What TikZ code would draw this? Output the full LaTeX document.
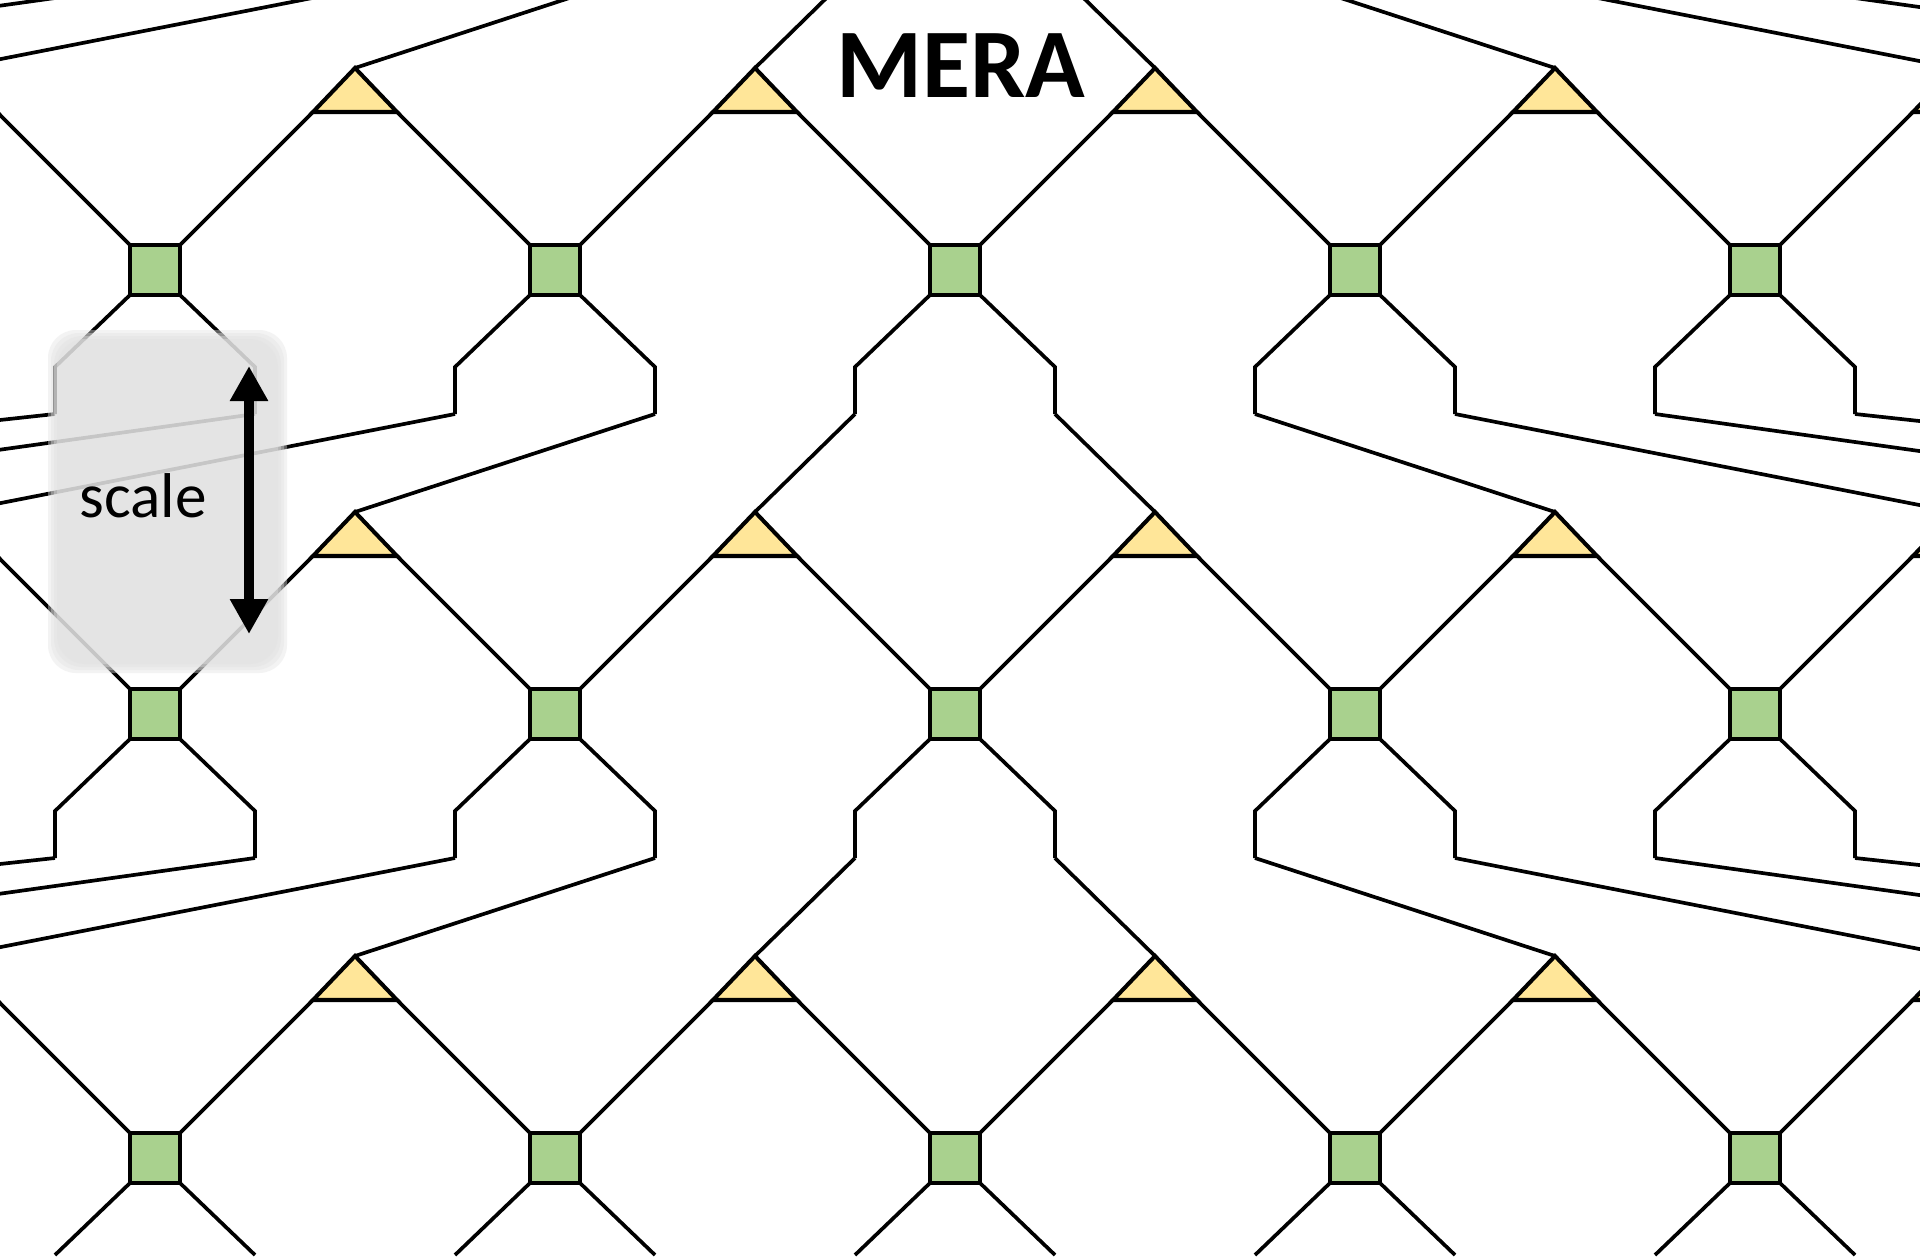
\documentclass[tikz,border=0pt]{standalone}
\usepackage{fontspec}
\setmainfont{Carlito}
\usetikzlibrary{shapes.geometric,arrows.meta}
\definecolor{disgreen}{HTML}{A9D18E}
\definecolor{isoyellow}{HTML}{FFE699}
\definecolor{boxgray}{RGB}{226,226,226}

\begin{document}
\begin{tikzpicture}[
    x=0.1mm, y=-0.1mm,
    disent/.style={rectangle, draw, line width=1.3pt, fill=disgreen, minimum size=5mm, inner sep=0pt, outer sep=0pt},
    iso/.style={isosceles triangle, isosceles triangle stretches, shape border rotate=90, draw, line width=1.15pt, fill=isoyellow, inner sep=0pt, outer sep=0pt, minimum width=8.4mm, minimum height=4.4mm, anchor=apex},
    wire/.style={line width=1.05pt},
    scalebox/.style={fill=boxgray, fill opacity=0.41, rounded corners=2.8mm},
    scalearrow/.style={line width=1mm, <->, >={Triangle[width=3.6mm,length=3.5mm]}}
]

\fill [white] (0,0) rectangle (1920,1260);
\useasboundingbox (0,0) rectangle (1920,1260);
\clip (0,0) rectangle (1920,1260);

\foreach \r in {0,...,3}
  \foreach \m in {0,...,4} {
    \pgfmathtruncatemacro\jl{2*\m}
    \pgfmathtruncatemacro\jr{2*\m+1}
    \node (s-\r-\m) [disent] at ({155+400*\m},{270+444*(\r-1)}) {};
    \coordinate (l-\r-\jl) at ({55+400*\m},{414+444*(\r-1)});
    \coordinate (l-\r-\jr) at ({255+400*\m},{414+444*(\r-1)});
    \ifnum\r<3
      \draw [wire] (s-\r-\m.south west) -- ++(-75,72) -- (l-\r-\jl);
      \draw [wire] (s-\r-\m.south east) -- ++(75,72) -- (l-\r-\jr);
    \else
      \draw [wire] (s-\r-\m.south west) -- ++(-75,72);
      \draw [wire] (s-\r-\m.south east) -- ++(75,72);
    \fi
  }

\foreach \r in {1,2,3}
  \foreach \k in {0,...,9} {
    \pgfmathtruncatemacro\q{\r-1}
    \node (t-\r-\k) [iso] at ({-845+400*\k},{68+444*(\r-1)}) {};
    \draw [wire] (t-\r-\k.apex) -- (l-\q-\k);
  }

\foreach \r in {1,2,3}
  \foreach \m in {0,...,4} {
    \pgfmathtruncatemacro\ka{\m+2}
    \pgfmathtruncatemacro\kb{\m+3}
    \draw [wire] (s-\r-\m.north west) -- (t-\r-\ka.right corner);
    \draw [wire] (s-\r-\m.north east) -- (t-\r-\kb.left corner);
  }

\foreach \d in {5,2,-1,-4}
  \fill [scalebox] ({53-\d},{335-\d}) rectangle ({282+\d},{668+\d});

\coordinate (hi) at (249,366);
\coordinate (lo) at (249,634);
\draw [scalearrow] (hi) -- (lo);

\node (scl) at (143,496) {\fontsize{18pt}{21pt}\selectfont scale};
\node (title) at (961,66) {\fontsize{28pt}{32pt}\selectfont\bfseries MERA};

\end{tikzpicture}
\end{document}
